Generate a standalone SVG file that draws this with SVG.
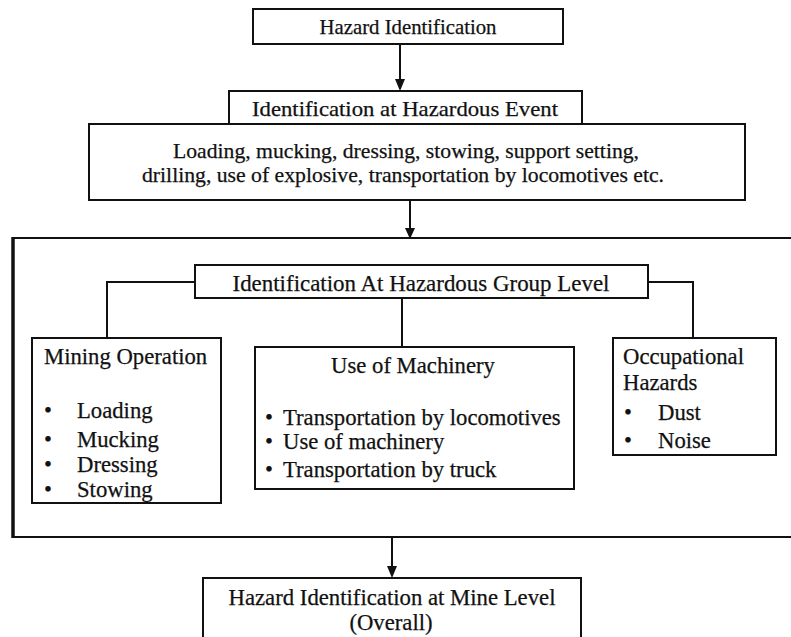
<svg xmlns="http://www.w3.org/2000/svg" width="791" height="637" viewBox="0 0 791 637">
<style>
.box{fill:#fff;stroke:#111;stroke-width:2}
.ln{fill:none;stroke:#111;stroke-width:2}
text{font-family:"Liberation Serif","Times New Roman",serif;fill:#111;stroke:#111;stroke-width:0.25}
.t1{font-size:21.5px}
.t2{font-size:22.7px}
.mid{text-anchor:middle}
</style>
<rect width="791" height="637" fill="#fff"/>

<g id="connectors">
<line class="ln" x1="400" y1="44" x2="400" y2="82"/>
<path d="M395,79 L405,79 L400,91 Z" fill="#111"/>
<line class="ln" x1="410" y1="200" x2="410" y2="230"/>
<path d="M405,228 L415,228 L410,239 Z" fill="#111"/>
<path class="ln" d="M195,282 H107 V338"/>
<path class="ln" d="M402,298 V347"/>
<path class="ln" d="M648,282 H693 V338"/>
<line class="ln" x1="392" y1="537" x2="392" y2="568"/>
<path d="M387,566 L397,566 L392,578 Z" fill="#111"/>
</g>

<g id="outer">
<path d="M791,238 H13 V537 H791" fill="none" stroke="#111" stroke-width="2"/>
<line x1="13" y1="237" x2="13" y2="538" stroke="#111" stroke-width="3.5"/>
</g>

<g id="hazard-identification">
<rect class="box" x="253" y="9" width="310" height="35"/>
<text class="t1 mid" x="408" y="34" textLength="177" lengthAdjust="spacingAndGlyphs">Hazard Identification</text>
</g>

<g id="hazardous-event">
<rect class="box" x="229" y="91" width="353" height="34"/>
<text class="t1 mid" x="405" y="116" textLength="306" lengthAdjust="spacingAndGlyphs">Identification at Hazardous Event</text>
</g>

<g id="event-list">
<rect class="box" x="89" y="124" width="656" height="76"/>
<text class="t1 mid" x="406" y="158" textLength="466" lengthAdjust="spacingAndGlyphs">Loading, mucking, dressing, stowing, support setting,</text>
<text class="t1 mid" x="403" y="182" textLength="522" lengthAdjust="spacingAndGlyphs">drilling, use of explosive, transportation by locomotives etc.</text>
</g>

<g id="group-level">
<rect class="box" x="195" y="265" width="453" height="33"/>
<text class="t2 mid" x="421" y="291" textLength="377" lengthAdjust="spacingAndGlyphs">Identification At Hazardous Group Level</text>
</g>

<g id="mining-operation">
<rect class="box" x="32" y="338" width="189" height="165"/>
<text class="t2" x="44" y="364">Mining Operation</text>
<text class="t2" x="44" y="418">•</text>
<text class="t2" x="77" y="418">Loading</text>
<text class="t2" x="44" y="447">•</text>
<text class="t2" x="77" y="447">Mucking</text>
<text class="t2" x="44" y="472">•</text>
<text class="t2" x="77" y="472">Dressing</text>
<text class="t2" x="44" y="497">•</text>
<text class="t2" x="77" y="497">Stowing</text>
</g>

<g id="use-of-machinery">
<rect class="box" x="255" y="347" width="319" height="142"/>
<text class="t2 mid" x="413" y="373">Use of Machinery</text>
<text class="t2" x="265" y="425">•</text>
<text class="t2" x="283" y="425">Transportation by locomotives</text>
<text class="t2" x="265" y="449">•</text>
<text class="t2" x="283" y="449">Use of machinery</text>
<text class="t2" x="265" y="477">•</text>
<text class="t2" x="283" y="477">Transportation by truck</text>
</g>

<g id="occupational-hazards">
<rect class="box" x="613" y="338" width="163" height="117"/>
<text class="t2" x="623" y="364">Occupational</text>
<text class="t2" x="623" y="390">Hazards</text>
<text class="t2" x="624" y="420">•</text>
<text class="t2" x="658" y="420">Dust</text>
<text class="t2" x="624" y="448">•</text>
<text class="t2" x="658" y="448">Noise</text>
</g>

<g id="mine-level">
<rect class="box" x="203" y="578" width="378" height="70"/>
<text class="t2 mid" x="392" y="605" textLength="327" lengthAdjust="spacingAndGlyphs">Hazard Identification at Mine Level</text>
<text class="t2 mid" x="391" y="630">(Overall)</text>
</g>
</svg>
